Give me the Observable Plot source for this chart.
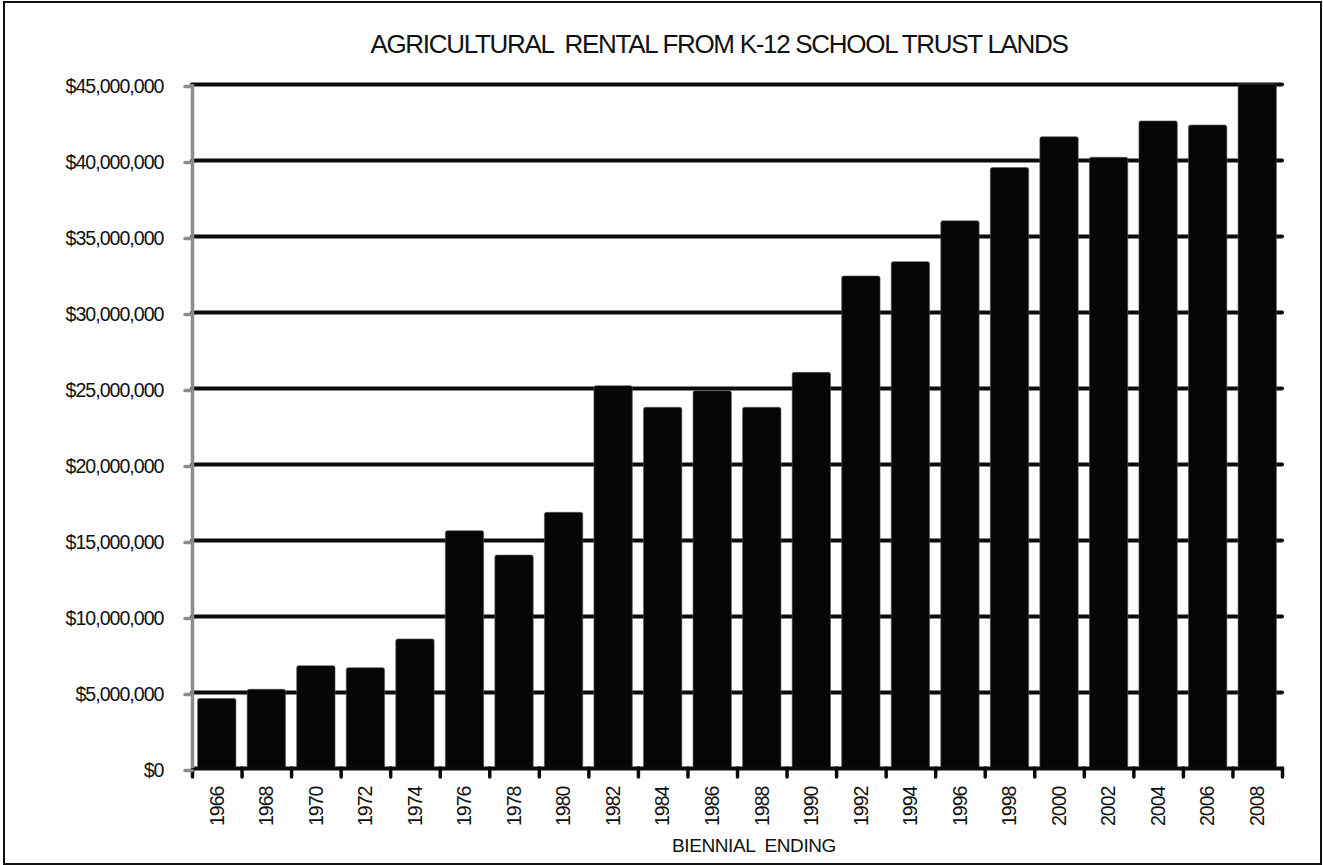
<!DOCTYPE html>
<html>
<head>
<meta charset="utf-8">
<script src="https://cdn.jsdelivr.net/npm/d3@7"></script>
<script src="https://cdn.jsdelivr.net/npm/@observablehq/plot@0.6"></script>
<style>
  html, body { margin: 0; padding: 0; background: #fff; }
  #wrap { position: relative; width: 1323px; height: 865px; overflow: hidden; font-family: "Liberation Sans", Arial, sans-serif; }
  #border { position: absolute; left: 3px; top: 1px; width: 1315px; height: 860px; border: 2px solid #111; box-sizing: content-box; pointer-events: none; }
  #title { position: absolute; left: 0; top: 31px; width: 1438px; text-align: center; font-size: 26px; letter-spacing: -1.3px; white-space: pre; color: #111; line-height: 1; }
  #xlabel { position: absolute; left: 0; top: 836px; width: 1508px; text-align: center; font-size: 19px; letter-spacing: -0.4px; white-space: pre; color: #111; line-height: 1; }
</style>
</head>
<body>
<div id="wrap">
  <div id="chart"></div>
  <div id="title">AGRICULTURAL  RENTAL FROM K-12 SCHOOL TRUST LANDS</div>
  <div id="xlabel">BIENNIAL  ENDING</div>
  <div id="border"></div>
</div>
<script>
const years = [1966, 1968, 1970, 1972, 1974, 1976, 1978, 1980, 1982, 1984, 1986,
               1988, 1990, 1992, 1994, 1996, 1998, 2000, 2002, 2004, 2006, 2008];
const rentals = [4580000, 5180000, 6730000, 6600000, 8490000, 15610000, 14010000, 16820000,
                 25150000, 23730000, 24820000, 23730000, 26030000, 32370000, 33310000, 36000000,
                 39500000, 41530000, 40180000, 42570000, 42300000, 45000000];
const yTicks = [0, 5000000, 10000000, 15000000, 20000000, 25000000, 30000000, 35000000, 40000000, 45000000];

const data = years.map((year, i) => ({year, value: rentals[i]}));
const boundaries = years.map(y => y - 1).concat([years[years.length - 1] + 1]);
const fmt = d => "$" + d3.format(",")(d);

function hasFont(name) {
  const c = document.createElement("canvas").getContext("2d");
  const s = "$45,000,000 ABCDEFG 1966";
  c.font = "40px monospace";
  const a = c.measureText(s).width;
  c.font = `40px '${name}', monospace`;
  const b = c.measureText(s).width;
  return Math.abs(a - b) > 1;
}
const narrow = hasFont("Liberation Sans Narrow");
const tickFont = narrow ? "'Liberation Sans Narrow', 'Liberation Sans', Arial, sans-serif" : "'Liberation Sans', Arial, sans-serif";
const tickSize = narrow ? 20.5 : 19.6;
const tickSpacing = narrow ? "0.3px" : "-1px";
const st = document.createElement("style");
st.textContent = `#chart svg text { letter-spacing: ${tickSpacing}; }`;
document.head.appendChild(st);

const chart = Plot.plot({
  width: 1323,
  height: 865,
  marginLeft: 192,
  marginRight: 41,
  marginTop: 84,
  marginBottom: 97,
  style: { fontFamily: tickFont, fontSize: tickSize + "px", color: "#111", background: "transparent" },
  x: { type: "linear", domain: [boundaries[0], boundaries[boundaries.length - 1]] },
  y: { domain: [0, 45000000] },
  marks: [
    Plot.ruleY(yTicks.filter(d => d > 0), { stroke: "#0a0a0a", strokeWidth: 4, strokeLinecap: "round" }),
    Plot.rectY(data, { x1: d => d.year - 1, x2: d => d.year + 1, y: "value", fill: "#060606", stroke: "#555", strokeWidth: 0.6, insetLeft: 5.6, insetRight: 5.6, rx: 2 }),
    Plot.ruleY([0], { stroke: "#0a0a0a", strokeWidth: 4 }),
    Plot.axisX({ ticks: boundaries, tickSize: 9, tickFormat: () => "", stroke: "#0a0a0a", strokeWidth: 3.5, strokeLinecap: "round", label: null }),
    Plot.axisX({ ticks: years, tickSize: 0, tickPadding: 18, tickRotate: -90, tickFormat: d => String(d), fill: "#111", fontSize: tickSize, label: null }),
    Plot.ruleX([boundaries[0]], { stroke: "#8c8c8c", strokeWidth: 3.5 }),
    Plot.axisY({ ticks: yTicks, tickSize: 7, tickPadding: 22, tickFormat: fmt, stroke: "#8c8c8c", strokeWidth: 3.5, strokeLinecap: "round", fill: "#111", fontSize: tickSize, label: null, dy: 2 })
  ]
});
document.getElementById("chart").appendChild(chart);
</script>
</body>
</html>
